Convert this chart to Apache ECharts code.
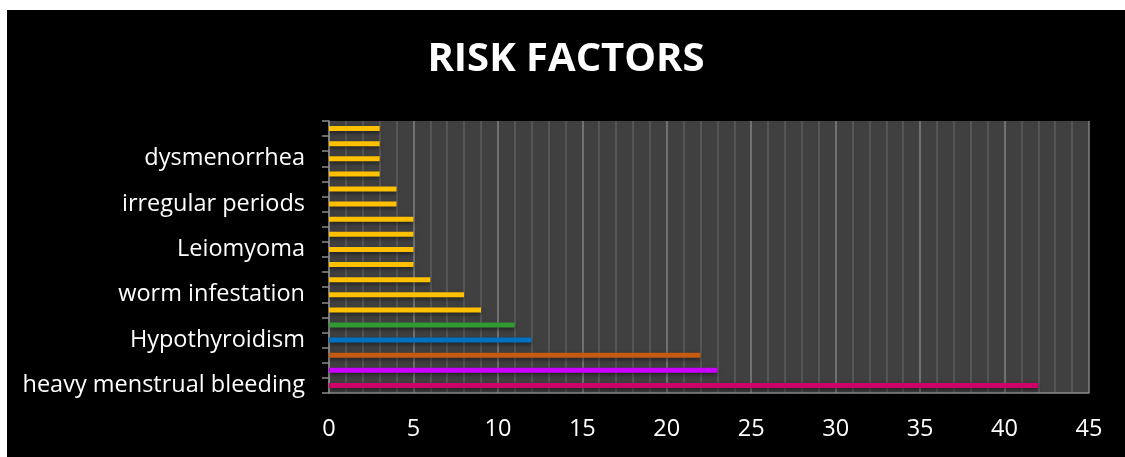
<!DOCTYPE html>
<html lang="en">
<head>
    <meta charset="UTF-8">
    <title>Risk Factors</title>
    <script src="https://cdn.jsdelivr.net/npm/echarts@6/dist/echarts.min.js"></script>
    <style>
        html, body { margin: 0; padding: 0; background: #ffffff; }
        #chart { position: absolute; left: 7px; top: 10px; width: 1118px; height: 447px; background: #000000; }
    </style>
</head>
<body>
    <div id="chart"></div>

    <script>
        // categories from bottom to top (only every third one is labelled in the picture)
        var categories = [
            'heavy menstrual bleeding', 'multiple pregnancies', 'poor diet',
            'Hypothyroidism', 'piles', 'vegetarian diet',
            'worm infestation', 'chronic kidney disease', 'peptic ulcer',
            'Leiomyoma', 'malabsorption', 'frequent blood donation',
            'irregular periods', 'NSAID use', 'malaria',
            'dysmenorrhea', 'tuberculosis', 'endometriosis'
        ];
        var values = [42, 23, 22, 12, 11, 9, 8, 6, 5, 5, 5, 5, 4, 4, 3, 3, 3, 3];
        var barColors = ['#cc0066', '#cc00ff', '#c55a11', '#0070c0', '#339933'];
        var defaultColor = '#ffc000';
        var xTicks = { min: 0, max: 45, step: 5 };

        var chart = echarts.init(document.getElementById('chart'));

        var barData = values.map(function (v, i) {
            return {
                value: v,
                itemStyle: { color: barColors[i] || defaultColor }
            };
        });

        var option = {
            backgroundColor: '#000000',
            title: {
                text: 'RISK FACTORS',
                left: 'center',
                top: 25,
                textStyle: { color: '#ffffff', fontSize: 40, fontWeight: 'bold', fontFamily: 'Open Sans' }
            },
            grid: {
                left: 322, right: 36, top: 111, bottom: 64,
                show: true,
                backgroundColor: '#404040',
                borderWidth: 0
            },
            xAxis: {
                type: 'value',
                min: xTicks.min,
                max: xTicks.max,
                interval: xTicks.step,
                axisLine: { show: true, lineStyle: { color: '#8c8c8c', width: 1.5 } },
                axisTick: { show: false },
                axisLabel: { color: '#ffffff', fontSize: 23.5, fontFamily: 'Open Sans', margin: 24 },
                splitLine: { show: true, lineStyle: { color: '#808080', width: 1.5 } },
                minorTick: { show: false, splitNumber: 5 },
                minorSplitLine: { show: true, lineStyle: { color: '#5c5c5c', width: 1.5 } }
            },
            yAxis: {
                type: 'category',
                data: categories,
                axisLine: { show: true, lineStyle: { color: '#8c8c8c', width: 1.5 } },
                axisTick: { show: true, interval: 0, length: 7, lineStyle: { color: '#8c8c8c', width: 1.5 } },
                axisLabel: { interval: 2, color: '#ffffff', fontSize: 23.5, fontFamily: 'Open Sans', margin: 24 }
            },
            series: [{
                type: 'bar',
                data: barData,
                barWidth: 5,
                itemStyle: { shadowColor: 'rgba(0,0,0,0.5)', shadowBlur: 4, shadowOffsetY: 2 }
            }]
        };

        chart.setOption(option);
    </script>
</body>
</html>
